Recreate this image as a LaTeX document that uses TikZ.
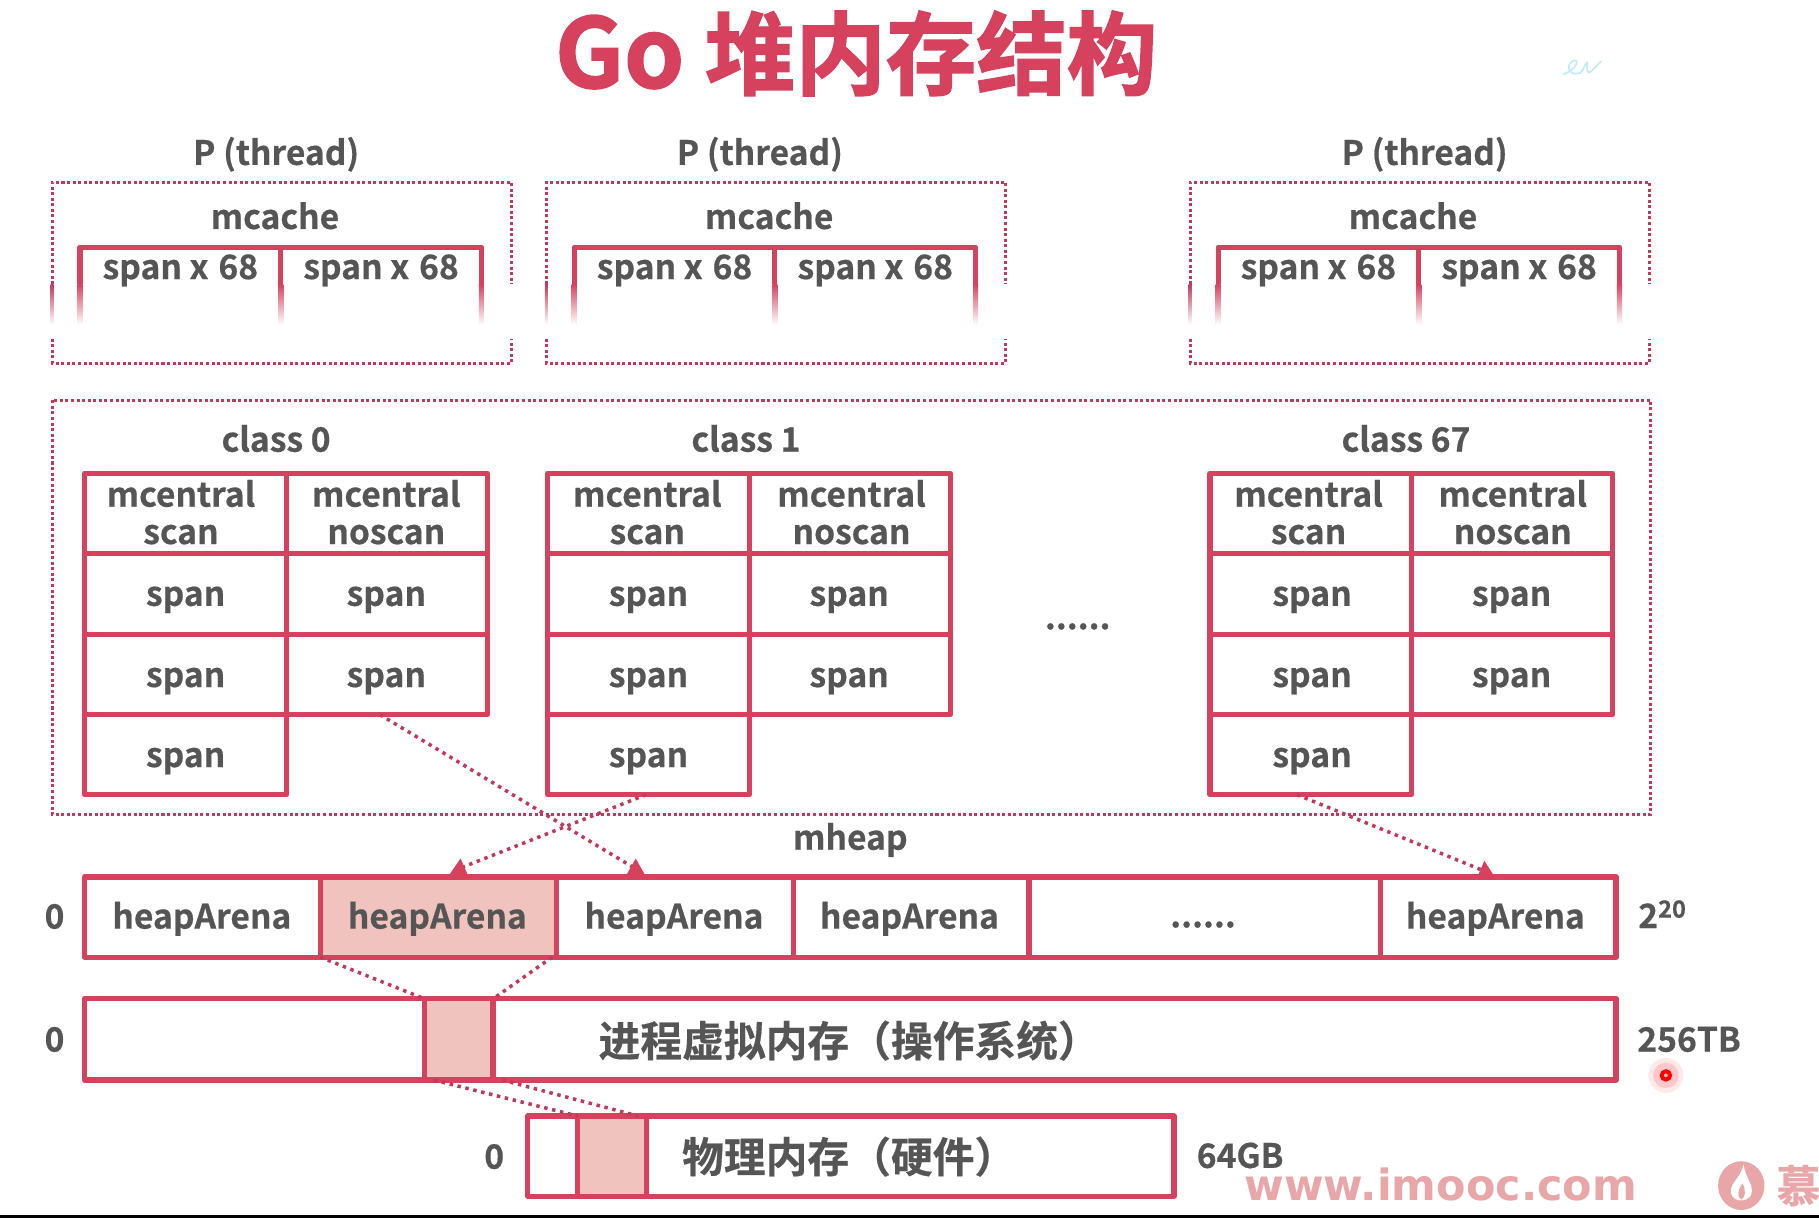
\documentclass[tikz,border=0pt]{standalone}
\usepackage{fontspec}
\usetikzlibrary{calc}
\setmainfont{Noto Sans CJK SC Bold}[FakeBold=0.5]
\newfontfamily\titlefont{Noto Sans CJK SC Bold}[FakeBold=1.6]
\newfontfamily\wmfont{DejaVu Sans Bold}
\definecolor{rosered}{HTML}{D6425E}
\definecolor{dotred}{HTML}{C03A5C}
\definecolor{pinkfill}{HTML}{F1C3BE}
\definecolor{txtgray}{HTML}{555555}
\definecolor{wmpink}{HTML}{E9A6A9}
\tikzset{
  x=1pt,y=-1pt,
  cellbox/.style={draw=rosered,line width=4.4pt,inner sep=0pt,outer sep=0pt,line join=round,font=\fontsize{29}{33}\selectfont,text=txtgray,align=center},
  lbl/.style={font=\fontsize{29}{33}\selectfont,text=txtgray,inner sep=0pt,align=center},
  dotbox/.style={draw=dotred,line width=2.6pt,dash pattern=on 2.6pt off 2.2pt},
  dotlink/.style={draw=dotred,line width=3pt,dash pattern=on 3pt off 4pt},
  tiptri/.style={fill=rosered,draw=none},
}
\newcommand{\lab}[4]{\node[lbl] (#1) at (#2,#3) {#4};}
\newcommand{\pbox}[5]{%
  \draw[dotbox] (#2,245) -- (#2,157) -- ({#2+396},157) -- ({#2+396},245);
  \draw[dotbox] (#2,292) -- (#2,313) -- ({#2+396},313) -- ({#2+396},292);
  \shade[top color=dotred,bottom color=white] ({#2-1.3},245) rectangle ({#2+1.3},280);
  \draw[rosered,line width=4.4pt,line join=round] (#3,245) -- (#3,213) -- (#5,213) -- (#5,245);
  \draw[rosered,line width=4.4pt] (#4,213) -- (#4,245);
  \foreach \xx in {#3,#4,#5}{\shade[top color=rosered,bottom color=white] ({\xx-2.2},245) rectangle ({\xx+2.2},280);}
  \node[lbl] (sx#1a) at ({(#3+#4)/2},233) {span x\hspace{2pt} 68};
  \node[lbl] (sx#1b) at ({(#4+#5)/2},233) {span x\hspace{2pt} 68};
}
\newcommand{\mtable}[8]{%
  \node[cellbox,minimum width={#3-#2},minimum height=69pt] (#1h1) at ({(#2+#3)/2},442.5) {};
  \node[cellbox,minimum width={#4-#3},minimum height=69pt] (#1h2) at ({(#3+#4)/2},442.5) {};
  \node[cellbox,minimum width={#3-#2},minimum height=70pt] (#1r1) at ({(#2+#3)/2},512) {};
  \node[cellbox,minimum width={#4-#3},minimum height=70pt] (#1n1) at ({(#3+#4)/2},512) {};
  \node[cellbox,minimum width={#3-#2},minimum height=69pt] (#1r2) at ({(#2+#3)/2},581.5) {};
  \node[cellbox,minimum width={#4-#3},minimum height=69pt] (#1n2) at ({(#3+#4)/2},581.5) {};
  \node[cellbox,minimum width={#3-#2},minimum height=69pt] (#1r3) at ({(#2+#3)/2},650.5) {};
  \node[lbl] at (#5,441.5) {mcentral\\[-0.8pt]scan};
  \node[lbl] at (#6,441.5) {mcentral\\[-0.8pt]noscan};
  \node[lbl] at (#7,517) {span};
  \node[lbl] at (#8,517) {span};
  \node[lbl] at (#7,587) {span};
  \node[lbl] at (#8,587) {span};
  \node[lbl] at (#7,656) {span};
}
\begin{document}
\begin{tikzpicture}
\useasboundingbox (0,0) rectangle (1568,1050);
\fill[white] (0,0) rectangle (1568,1050);
\fill[black] (0,1047) rectangle (1568,1050);
% title
\node[inner sep=0pt,text=rosered,font=\titlefont\fontsize{78}{84}\selectfont] (title) at (738,46) {{\fontsize{83}{84}\selectfont Go} 堆内存结构};
% faint handwriting
\draw[cyan!25,line width=1.4pt,line cap=round] (1348,64) .. controls (1358,60) and (1362,52) .. (1357,52) .. controls (1350,54) and (1350,66) .. (1362,63) .. controls (1366,60) and (1366,54) .. (1368,54) .. controls (1368,60) and (1368,64) .. (1371,62) -- (1380,53);
% P boxes
\lab{p1}{238}{133}{P (thread)}
\lab{p2}{655}{133}{P (thread)}
\lab{p3}{1228}{133}{P (thread)}
\lab{mc1}{237}{186}{mcache}
\lab{mc2}{663}{186}{mcache}
\lab{mc3}{1218}{186}{mcache}
\pbox{1}{45}{69}{242}{415}
\pbox{2}{471}{495}{668}{841}
\pbox{3}{1026}{1050}{1223}{1396}
% central
\draw[dotbox] (45,345) rectangle (1423,702);
\lab{c0}{238}{378}{class 0}
\lab{c1}{643}{378}{class 1}
\lab{c67}{1212}{378}{class 67}
\mtable{a}{73}{247}{420}{156}{333}{160}{333}
\mtable{b}{472}{646}{819}{558}{734}{559}{732}
\mtable{c}{1043}{1217}{1390}{1128}{1304}{1131}{1303}
\lab{dots1}{929}{540}{......}
\lab{mheap}{733}{724}{mheap}
% heap arenas
\node[cellbox,minimum width=203pt,minimum height=69pt] (ar1) at (174.5,790.5) {};
\node[cellbox,minimum width=204pt,minimum height=69pt,fill=pinkfill] (ar2) at (378,790.5) {};
\node[cellbox,minimum width=204pt,minimum height=69pt] (ar3) at (582,790.5) {};
\node[cellbox,minimum width=203pt,minimum height=69pt] (ar4) at (785.5,790.5) {};
\node[cellbox,minimum width=303pt,minimum height=69pt] (ar5) at (1038.5,790.5) {};
\node[cellbox,minimum width=203pt,minimum height=69pt] (ar6) at (1291.5,790.5) {};
\lab{ha1}{174}{792}{heapArena}
\lab{ha2}{377}{792}{heapArena}
\lab{ha3}{581}{792}{heapArena}
\lab{ha4}{784}{792}{heapArena}
\lab{ha6}{1289}{792}{heapArena}
\lab{dots2}{1037}{797}{......}
% virtual memory
\node[cellbox,minimum width=293pt,minimum height=70pt] (vm1) at (219.5,896) {};
\node[cellbox,minimum width=59pt,minimum height=70pt,fill=pinkfill] (vm2) at (395.5,896) {};
\node[cellbox,minimum width=968pt,minimum height=70pt] (vm3) at (909,896) {};
\node[lbl,font=\fontsize{36}{40}\selectfont] (vmt) at (732,897) {进程虚拟内存（操作系统）};
% physical memory
\node[cellbox,minimum width=43pt,minimum height=69pt] (pm1) at (476.5,996.5) {};
\node[cellbox,minimum width=59pt,minimum height=69pt,fill=pinkfill] (pm2) at (527.5,996.5) {};
\node[cellbox,minimum width=455pt,minimum height=69pt] (pm3) at (784.5,996.5) {};
\node[lbl,font=\fontsize{36}{40}\selectfont] (pmt) at (732,997) {物理内存（硬件）};
% side labels
\lab{z1}{47}{790}{0}
\lab{z2}{47}{896}{0}
\lab{z3}{426}{997}{0}
\lab{top1}{1433}{788}{2\textsuperscript{20}}
\lab{top2}{1456}{896}{256TB}
\lab{top3}{1069}{996}{64GB}
% connectors
\coordinate (e1) at ([xshift=-34pt,yshift=7pt]ar3.north);
\coordinate (e2) at ([xshift=17pt,yshift=7pt]ar2.north);
\coordinate (e3) at ([xshift=-14pt,yshift=6pt]ar6.north);
\draw[dotlink] ([xshift=-6pt]an2.south) -- (e1);
\draw[dotlink] ([xshift=-2pt]br3.south) -- (e2);
\draw[dotlink] ([xshift=-12pt]cr3.south) -- (e3);
\fill[tiptri] ([xshift=-34pt,yshift=16pt]ar3.north) -- ([xshift=-43pt]ar3.north) -- ([xshift=-25pt]ar3.north) -- cycle;
\fill[tiptri] ([xshift=19pt,yshift=16pt]ar2.north) -- ([xshift=8pt]ar2.north) -- ([xshift=26pt]ar2.north) -- cycle;
\fill[tiptri] ([xshift=-12pt,yshift=14pt]ar6.north) -- ([xshift=-18pt]ar6.north) -- ([xshift=-3pt]ar6.north) -- cycle;
\draw[dotlink] (ar2.south west) -- (vm2.north west);
\draw[dotlink] ([xshift=-4pt]ar2.south east) -- (vm2.north east);
\draw[dotlink] ([xshift=8pt]vm2.south west) -- (pm2.north west);
\draw[dotlink] ([xshift=8pt]vm2.south east) -- ([xshift=-7pt]pm2.north east);
% cursor
\fill[red!9] (1436,927) circle (15);
\fill[red!22] (1436,927) circle (11);
\draw[red,line width=3.4pt,fill=pink] (1436,927) circle (3.6);
% watermark
\node[inner sep=0pt,text=wmpink,font=\wmfont\fontsize{37}{40}\selectfont] (wm) at (1242,1021) {www.imooc.com};
\fill[wmpink] (1501,1022) ellipse (20 and 21);
\fill[white] (1503,1004) .. controls (1504,1014) and (1511,1020) .. (1510,1028) .. controls (1509,1036) and (1494,1038) .. (1492,1028) .. controls (1491,1020) and (1500,1016) .. (1503,1004) -- cycle;
\fill[wmpink] (1502,1020) .. controls (1505,1026) and (1505,1032) .. (1501,1034) .. controls (1497,1032) and (1498,1026) .. (1502,1020) -- cycle;
\begin{scope}
\clip (0,0) rectangle (1568,1047);
\node[anchor=west,inner sep=0pt,text=wmpink,font=\fontsize{38}{40}\selectfont] (wmc) at (1531,1022) {慕};
\end{scope}
\end{tikzpicture}
\end{document}
